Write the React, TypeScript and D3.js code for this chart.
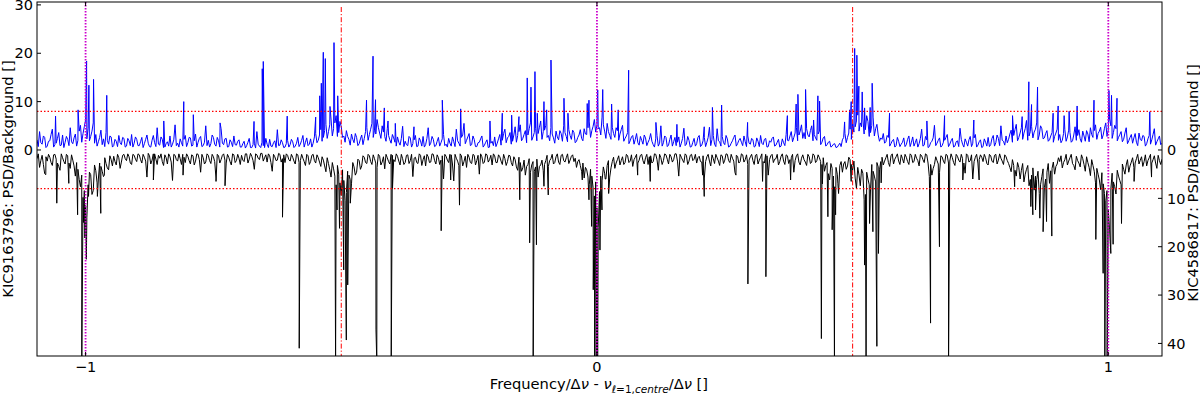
import * as d3 from "d3";

// plot box: 37..1162 px wide, 2..356 px high
const W = 1200;
const H = 394;
const margin = { top: 2, right: 38, bottom: 38, left: 37 };
const innerW = W - margin.left - margin.right;
const innerH = H - margin.top - margin.bottom;

// frequency grid of the noisy part of both spectra (main points + half-step points)
const freqStart = -1.095;
const freqStep = 0.005;
const freqDomain = [-1.095, 1.105];

// KIC9163796 (blue, upward), one row = 0.1 in frequency
const blueNoise = [
  2.1, 3.8, 1.2, 2.6, 0.8, 1.9, 4.3, 1.1, 2.4, 0.9, 3.1, 1.6, 2.2, 4.6, 1.3, 3.3, 2.0, 5.1, 3.4, 6.2,
  4.5, 2.8, 5.6, 3.2, 1.7, 4.1, 2.3, 3.6, 1.2, 2.7, 0.9, 1.8, 3.0, 1.1, 2.4, 0.8, 1.9, 3.2, 1.4, 2.2,
  0.9, 2.6, 1.3, 3.1, 0.7, 2.0, 1.5, 4.6, 1.0, 2.2, 0.6, 1.7, 2.9, 1.2, 5.2, 1.4, 2.3, 0.8, 3.0, 1.5,
  2.5, 1.0, 3.3, 1.6, 2.8, 0.9, 5.0, 2.0, 1.3, 2.6, 0.8, 1.9, 4.4, 1.1, 2.4, 0.7, 1.6, 2.9, 1.0, 2.1,
  0.6, 1.8, 0.9, 2.4, 0.5, 1.4, 3.8, 0.8, 1.6, 0.5, 1.2, 2.2, 0.7, 1.9, 4.2, 1.0, 1.5, 0.6, 2.0, 1.1,
  1.7, 0.8, 2.6, 1.2, 3.0, 1.6, 0.9, 2.3, 1.4, 3.4, 2.0, 4.2, 2.6, 5.3, 3.8, 6.4, 4.4, 7.1, 3.6, 4.8,
  2.9, 4.0, 2.2, 3.3, 1.5, 2.6, 1.3, 3.1, 2.4, 4.6, 3.2, 5.5, 4.1, 6.3, 3.5, 5.0, 2.8, 4.4, 2.1, 3.2,
  1.6, 2.7, 1.0, 4.9, 1.8, 0.9, 2.5, 1.3, 3.0, 0.8, 1.9, 2.8, 1.1, 4.6, 1.4, 2.2, 0.9, 2.6, 1.5, 3.2,
  1.2, 2.4, 0.8, 1.7, 4.3, 1.4, 2.6, 5.5, 2.0, 3.4, 1.1, 2.2, 0.7, 1.6, 2.9, 1.0, 2.1, 0.6, 1.8, 2.7,
  1.4, 3.2, 2.0, 4.3, 2.5, 3.6, 1.8, 4.8, 3.0, 5.2, 2.4, 4.0, 3.1, 5.6, 2.7, 4.5, 3.4, 6.0, 3.8, 5.1,
  3.0, 4.6, 2.5, 3.9, 2.1, 3.4, 5.0, 2.8, 4.2, 2.2, 3.6, 1.8, 3.1, 2.4, 4.4, 3.2, 5.8, 4.0, 6.3, 5.2,
  4.6, 6.8, 3.9, 5.5, 3.0, 4.7, 2.6, 4.0, 3.3, 5.1, 2.4, 3.6, 1.9, 3.0, 2.2, 1.5, 2.8, 1.2, 2.5, 1.6,
  3.4, 1.1, 2.3, 0.8, 5.0, 1.5, 2.6, 1.0, 3.1, 1.7, 0.9, 2.7, 1.4, 4.5, 1.2, 2.0, 0.7, 2.4, 1.3, 3.0,
  1.0, 2.6, 1.6, 4.7, 2.2, 1.2, 4.4, 1.7, 2.8, 1.1, 2.3, 0.8, 1.9, 3.1, 1.3, 2.4, 0.9, 1.7, 2.9, 1.2,
  2.1, 0.8, 1.8, 3.0, 1.1, 2.4, 0.7, 1.6, 2.7, 1.0, 2.2, 0.8, 1.5, 3.2, 1.9, 3.8, 2.6, 4.7, 3.1, 5.2,
  3.6, 4.4, 2.7, 5.0, 3.2, 2.0, 3.9, 1.6, 2.8, 1.1, 1.8, 0.8, 1.3, 0.6, 1.4, 2.1, 3.4, 2.6, 4.3, 5.4,
  4.8, 7.2, 5.6, 6.4, 4.2, 5.9, 3.6, 6.8, 4.4, 3.1, 2.5, 3.4, 1.7, 2.6, 1.3, 2.2, 0.9, 1.8, 1.2, 2.5,
  1.1, 2.9, 1.6, 0.8, 2.3, 1.3, 4.3, 1.0, 2.1, 0.7, 1.8, 5.1, 1.4, 2.5, 0.9, 2.0, 3.2, 1.2, 2.4, 0.8,
  1.9, 4.5, 1.2, 2.3, 0.8, 2.8, 1.4, 3.2, 1.0, 2.1, 0.7, 1.6, 2.6, 1.1, 3.0, 1.5, 2.4, 5.0, 1.8, 2.9,
  2.2, 4.1, 3.0, 5.3, 2.6, 4.6, 3.5, 6.1, 2.9, 4.9, 3.7, 5.6, 3.1, 4.4, 2.5, 4.0, 2.1, 3.6, 2.8, 4.3,
  3.2, 2.0, 4.2, 2.7, 3.6, 1.9, 4.8, 3.0, 2.3, 3.9, 1.8, 3.3, 4.6, 2.6, 5.2, 3.4, 4.7, 3.1, 5.6, 4.2,
  5.0, 3.6, 4.4, 2.6, 3.8, 2.2, 4.6, 1.9, 3.2, 2.5, 1.6, 3.5, 1.9, 2.8, 1.3, 3.0, 2.1, 4.4, 1.7, 2.9,
  1.4,
];

// values half a step after each grid point
const blueNoiseMid = [
  0.7, 1.5, 2.9, 0.5, 1.8, 3.2, 0.6, 1.4, 3.6, 1.0, 0.5, 2.8, 0.9, 1.7, 2.5, 0.8, 3.9, 1.6, 4.8, 2.3,
  1.9, 3.9, 1.4, 0.8, 2.6, 1.1, 0.7, 2.0, 2.9, 0.6, 2.2, 0.7, 1.5, 2.6, 0.6, 2.4, 0.9, 0.6, 2.7, 0.9,
  1.7, 0.5, 2.2, 1.4, 0.6, 3.0, 0.7, 1.2, 2.7, 0.5, 1.3, 0.8, 0.6, 2.1, 0.9, 0.6, 1.5, 2.2, 0.7, 2.6,
  0.8, 1.9, 0.6, 2.4, 0.7, 1.6, 0.9, 0.6, 3.1, 1.2, 2.6, 0.6, 1.4, 2.3, 0.6, 2.1, 0.7, 1.1, 1.8, 0.6,
  1.3, 0.4, 1.6, 0.5, 1.1, 0.4, 1.2, 0.5, 0.9, 2.4, 0.5, 0.8, 1.5, 0.5, 0.9, 2.1, 0.5, 1.3, 0.6, 2.2,
  0.5, 1.4, 0.7, 2.0, 0.6, 2.5, 1.2, 0.6, 2.7, 1.5, 3.1, 1.8, 4.0, 2.4, 5.2, 2.9, 5.6, 2.8, 5.9, 2.6,
  1.6, 2.8, 1.0, 2.2, 3.4, 0.9, 2.3, 1.1, 3.8, 2.0, 4.3, 2.6, 3.3, 4.7, 2.4, 3.7, 1.8, 3.0, 1.4, 2.5,
  0.8, 1.6, 2.4, 0.7, 1.1, 2.8, 0.6, 2.1, 0.7, 2.5, 0.8, 0.6, 2.4, 0.9, 2.8, 0.7, 1.8, 0.8, 2.3, 0.9,
  0.6, 1.4, 2.7, 0.7, 1.9, 0.8, 3.1, 1.3, 2.7, 0.9, 2.9, 0.7, 1.5, 2.3, 0.6, 1.6, 0.5, 1.4, 0.9, 0.7,
  2.3, 1.0, 3.4, 1.5, 2.8, 1.2, 3.1, 1.6, 3.8, 1.9, 3.2, 1.5, 4.4, 2.0, 3.6, 1.9, 4.7, 2.2, 4.1, 2.6,
  1.9, 3.3, 1.4, 2.7, 4.0, 1.8, 3.6, 1.7, 3.0, 4.1, 1.5, 2.6, 4.2, 1.9, 3.3, 4.6, 2.6, 4.9, 3.7, 4.4,
  3.1, 5.2, 2.4, 3.8, 2.2, 3.4, 4.6, 2.0, 4.2, 1.8, 2.9, 1.3, 2.7, 1.2, 3.4, 1.0, 2.0, 3.1, 0.9, 2.2,
  1.8, 0.6, 3.0, 1.4, 0.8, 2.9, 0.7, 2.2, 0.8, 2.6, 1.6, 0.6, 2.4, 0.9, 2.8, 0.6, 1.6, 0.8, 2.6, 0.7,
  1.9, 0.7, 2.6, 0.9, 3.0, 0.7, 1.9, 0.8, 1.5, 3.0, 0.6, 1.4, 2.6, 0.8, 2.0, 1.6, 2.9, 0.7, 1.4, 2.4,
  0.6, 2.5, 0.7, 1.4, 2.2, 0.6, 1.9, 2.4, 0.8, 1.6, 0.6, 2.3, 0.9, 2.0, 2.9, 1.7, 3.5, 1.9, 3.9, 2.4,
  2.3, 3.1, 4.0, 1.9, 2.5, 3.3, 1.1, 2.5, 0.8, 1.6, 0.6, 1.2, 0.5, 1.0, 0.7, 2.6, 1.5, 3.5, 2.2, 3.7,
  6.0, 3.9, 4.8, 3.3, 7.1, 2.8, 5.1, 2.9, 5.3, 1.8, 2.2, 1.4, 3.0, 0.8, 1.9, 0.6, 2.6, 0.7, 1.6, 0.7,
  2.2, 0.7, 2.7, 1.5, 0.6, 2.4, 0.8, 2.8, 0.5, 1.5, 2.5, 0.9, 2.0, 0.6, 1.6, 2.6, 0.7, 1.9, 0.6, 1.7,
  0.7, 2.2, 0.6, 1.6, 2.1, 0.7, 2.5, 0.6, 1.7, 0.5, 2.3, 0.8, 0.7, 2.4, 0.8, 3.1, 0.9, 2.0, 1.0, 1.5,
  3.3, 1.6, 4.2, 1.9, 3.5, 2.2, 4.4, 2.0, 3.8, 2.5, 4.3, 2.1, 5.0, 2.3, 3.4, 1.8, 2.9, 1.6, 3.5, 2.0,
  1.5, 3.4, 1.8, 4.1, 1.6, 3.1, 2.0, 4.2, 1.6, 2.9, 4.0, 1.7, 3.2, 4.0, 2.2, 3.9, 2.3, 4.5, 2.8, 6.4,
  2.4, 5.1, 1.9, 3.2, 1.7, 3.5, 1.3, 2.6, 1.4, 3.4, 0.9, 2.2, 3.0, 0.8, 2.3, 1.2, 3.2, 1.0, 2.3, 1.1,
];

// sharp modes of KIC9163796: [frequency, PSD/background]
const bluePeaks = [
  [-1.0587, 7.0], [-1.0147, 8.3], [-0.998, 18.4], [-0.9935, 13.4], [-0.9844, 14.6], [-0.9586, 11.3],
  [-0.8471, 6.0], [-0.808, 10.0], [-0.7893, 7.3], [-0.737, 5.6], [-0.6706, 5.9], [-0.6545, 16.8],
  [-0.6525, 18.3], [-0.6057, 7.0], [-0.55, 6.8], [-0.5421, 11.2], [-0.539, 13.8], [-0.5351, 20.2],
  [-0.5312, 18.9], [-0.522, 9.0], [-0.5142, 22.2], [-0.5069, 11.2], [-0.4506, 10.3], [-0.4379, 19.4],
  [-0.433, 10.4], [-0.4158, 8.7], [-0.4086, 6.0], [-0.3943, 5.5], [-0.3578, 4.8], [-0.3024, 10.3],
  [-0.2665, 8.5], [-0.2092, 6.0], [-0.1851, 7.6], [-0.1668, 7.2], [-0.1525, 6.9], [-0.1363, 14.9],
  [-0.129, 13.0], [-0.1212, 16.2], [-0.1167, 7.6], [-0.1036, 10.0], [-0.0983, 8.3], [-0.0899, 18.6],
  [-0.0645, 10.7], [-0.0567, 7.6], [-0.019, 9.6], [-0.0156, 10.3], [0.0015, 12.4], [0.0113, 12.5],
  [0.0287, 9.5], [0.0416, 8.3], [0.062, 16.5], [0.1153, 5.7], [0.1564, 5.3], [0.2098, 4.8],
  [0.2258, 8.8], [0.2438, 9.3], [0.2946, 5.7], [0.3724, 7.1], [0.3896, 9.5], [0.393, 11.5],
  [0.408, 12.5], [0.4237, 6.2], [0.4321, 11.2], [0.4354, 10.1], [0.4843, 5.8], [0.494, 8.3],
  [0.4972, 10.0], [0.504, 21.0], [0.5083, 19.6], [0.5122, 13.2], [0.5187, 12.0], [0.5234, 8.7],
  [0.5343, 8.8], [0.5382, 13.8], [0.5722, 7.6], [0.6452, 6.0], [0.6798, 7.1], [0.737, 6.2],
  [0.8127, 7.1], [0.8315, 6.9], [0.8446, 14.1], [0.8499, 9.4], [0.8616, 13.0], [0.8921, 7.6],
  [0.9019, 9.1], [0.9136, 7.1], [0.9234, 8.0], [0.939, 9.1], [0.972, 10.3], [1.0012, 12.3],
  [1.0063, 11.3], [1.017, 10.7], [1.0811, 7.9],
];

// KIC4586817 (black, drawn downward)
const blackNoise = [
  1.8, 3.6, 1.1, 4.9, 2.3, 1.5, 3.2, 0.9, 2.7, 4.2, 1.6, 2.9, 1.2, 3.8, 2.1, 5.4, 4.0, 7.6, 9.8, 11.5,
  7.2, 5.1, 8.4, 4.3, 6.0, 3.4, 5.5, 2.8, 4.1, 2.0, 1.3, 3.1, 1.6, 2.5, 0.9, 2.2, 1.4, 3.0, 1.1, 2.4,
  1.0, 2.7, 1.5, 5.6, 1.2, 2.1, 0.8, 3.0, 1.7, 2.4, 1.0, 2.9, 1.4, 6.3, 1.1, 2.3, 1.8, 0.9, 2.6, 1.3,
  2.9, 1.2, 2.3, 0.9, 4.6, 1.6, 2.5, 1.1, 2.8, 1.4, 5.8, 1.2, 2.0, 0.8, 2.7, 1.5, 3.1, 1.0, 2.2, 1.7,
  1.1, 2.4, 0.8, 1.9, 1.3, 4.0, 1.0, 2.0, 0.7, 1.6, 2.5, 1.2, 4.4, 1.4, 2.1, 0.9, 1.8, 2.6, 1.1, 2.3,
  1.5, 2.9, 1.0, 2.2, 1.7, 3.2, 1.2, 2.4, 0.9, 2.7, 1.6, 3.4, 2.1, 4.5, 2.8, 5.6, 3.9, 7.2, 5.0, 9.4,
  6.3, 8.8, 5.2, 7.0, 3.5, 4.6, 2.2, 3.3, 1.5, 2.8, 1.2, 3.0, 1.8, 3.6, 1.3, 2.5, 3.9, 1.6, 2.9, 1.1,
  2.4, 1.3, 3.1, 1.8, 2.6, 1.0, 2.2, 5.5, 1.5, 2.8, 1.1, 2.0, 3.3, 1.4, 2.5, 0.9, 2.9, 1.6, 2.1, 6.0,
  1.3, 2.6, 1.0, 6.4, 1.7, 3.2, 1.2, 2.4, 3.6, 1.5, 2.8, 1.1, 2.2, 5.0, 1.4, 2.5, 1.0, 2.0, 3.1, 1.2,
  2.6, 1.4, 3.0, 1.8, 2.4, 1.2, 3.3, 2.0, 4.2, 2.6, 3.7, 5.2, 3.0, 4.6, 2.4, 3.5, 5.6, 3.1, 4.3, 2.2,
  3.4, 1.8, 2.9, 1.4, 2.5, 1.1, 2.2, 1.6, 2.8, 1.3, 2.4, 3.6, 2.0, 4.4, 5.8, 4.1, 7.2, 5.4, 9.5, 12.0,
  8.6, 6.4, 4.8, 3.2, 5.6, 2.4, 3.8, 2.0, 3.1, 1.4, 2.6, 1.2, 2.3, 3.4, 1.5, 2.7, 1.1, 2.2, 1.6, 3.0,
  1.2, 2.4, 0.9, 4.2, 1.6, 2.2, 1.0, 2.9, 1.4, 2.0, 0.8, 5.4, 1.5, 2.6, 1.1, 2.3, 0.9, 1.9, 2.7, 1.3,
  2.5, 5.8, 1.4, 2.3, 1.0, 2.8, 1.6, 3.2, 1.2, 2.1, 0.9, 2.6, 1.7, 4.7, 1.3, 2.4, 1.0, 2.0, 3.0, 1.4,
  2.2, 1.1, 2.9, 1.5, 2.4, 0.9, 5.2, 1.2, 2.6, 1.8, 3.1, 1.3, 2.3, 1.0, 2.8, 1.6, 4.6, 1.2, 2.5, 1.7,
  2.0, 3.2, 1.4, 2.5, 1.1, 2.2, 1.6, 3.0, 4.4, 2.6, 6.2, 3.8, 7.6, 5.0, 3.2, 4.6, 2.4, 3.3, 2.0, 4.2,
  5.8, 3.6, 7.4, 4.8, 9.2, 6.0, 8.1, 4.4, 6.6, 3.5, 2.4, 3.1, 1.6, 2.6, 1.2, 2.9, 1.4, 2.3, 1.0, 2.7,
  1.5, 3.0, 1.1, 2.4, 1.7, 3.3, 1.2, 2.6, 1.0, 5.5, 5.2, 3.0, 2.2, 4.6, 1.4, 2.8, 1.1, 2.3, 1.6, 3.2,
  1.3, 2.5, 1.8, 4.8, 1.1, 2.2, 6.0, 1.5, 2.7, 1.0, 2.4, 1.6, 3.1, 1.2, 2.6, 0.9, 2.1, 1.7, 3.0, 1.4,
  2.8, 4.5, 3.2, 5.4, 3.6, 4.2, 6.6, 4.0, 7.4, 5.2, 8.3, 6.1, 9.0, 5.5, 7.8, 4.6, 6.9, 3.8, 5.0, 2.9,
  2.4, 3.7, 2.0, 3.1, 1.6, 2.8, 4.1, 2.2, 3.5, 1.8, 4.4, 2.6, 5.3, 3.2, 6.8, 5.0, 8.2, 7.0, 10.5, 12.4,
  8.0, 6.6, 9.1, 5.4, 7.2, 4.0, 3.1, 4.6, 2.5, 3.6, 1.8, 2.9, 1.4, 2.4, 3.3, 1.6, 2.7, 1.2, 3.8, 2.2,
  1.9,
];

const blackNoiseMid = [
  0.8, 2.2, 3.0, 1.4, 0.9, 2.6, 1.0, 1.9, 3.4, 0.8, 2.4, 0.9, 2.7, 1.0, 3.3, 2.6, 6.1, 5.2, 8.4, 14.0,
  4.6, 9.2, 3.1, 6.8, 2.7, 4.4, 1.6, 3.7, 1.2, 3.3, 2.4, 0.9, 3.8, 1.1, 1.8, 0.8, 2.7, 0.9, 1.9, 0.8,
  2.0, 0.9, 2.3, 0.7, 2.9, 0.8, 1.9, 1.1, 0.8, 3.2, 1.6, 0.8, 2.5, 0.9, 2.0, 0.8, 3.0, 1.5, 0.8, 2.2,
  1.0, 3.1, 0.8, 2.0, 0.9, 2.9, 0.8, 2.2, 0.9, 2.4, 0.9, 2.7, 1.1, 2.1, 0.9, 2.4, 0.8, 2.6, 0.9, 3.0,
  2.1, 0.8, 2.7, 0.7, 2.2, 0.8, 1.7, 0.7, 2.3, 1.0, 0.8, 2.6, 0.9, 2.2, 0.7, 2.5, 1.0, 0.8, 2.0, 0.9,
  2.3, 0.8, 2.6, 0.9, 2.4, 0.9, 3.0, 1.1, 2.2, 1.0, 2.5, 1.4, 3.3, 1.6, 4.1, 2.6, 5.4, 3.2, 6.8, 4.1,
  10.5, 4.4, 6.1, 2.6, 5.2, 1.9, 4.0, 1.2, 2.6, 0.9, 2.4, 1.0, 2.7, 0.9, 3.1, 1.4, 0.9, 2.4, 0.9, 2.0,
  0.8, 2.3, 0.9, 3.0, 1.1, 2.8, 0.9, 1.7, 2.6, 0.8, 3.2, 1.2, 0.9, 2.6, 0.8, 2.2, 1.0, 3.0, 1.2, 0.9,
  2.1, 0.9, 2.9, 0.9, 2.3, 0.8, 3.3, 1.3, 0.9, 2.6, 0.9, 3.1, 1.1, 0.8, 2.8, 0.8, 2.5, 1.1, 0.8, 2.6,
  1.0, 2.3, 0.9, 3.2, 1.1, 2.6, 1.4, 3.5, 1.5, 4.4, 2.1, 3.4, 1.8, 3.1, 4.4, 1.9, 3.4, 2.1, 3.0, 1.1,
  2.2, 0.9, 2.6, 0.8, 3.0, 0.9, 2.5, 0.8, 2.1, 1.0, 1.7, 2.4, 3.2, 2.7, 3.6, 5.6, 4.0, 7.8, 6.6, 16.0,
  5.4, 3.5, 6.0, 2.2, 3.7, 1.5, 2.7, 1.2, 2.2, 3.0, 0.9, 2.6, 1.0, 2.0, 0.9, 2.1, 0.9, 2.9, 0.9, 1.4,
  2.7, 0.8, 2.0, 0.9, 3.0, 0.8, 1.9, 0.9, 2.5, 0.8, 2.3, 0.9, 2.1, 0.8, 3.0, 1.1, 2.2, 0.9, 1.6, 2.4,
  1.2, 2.4, 0.9, 3.3, 1.8, 0.9, 2.3, 1.0, 2.8, 0.8, 2.2, 0.9, 2.3, 1.1, 2.7, 0.8, 2.5, 1.0, 2.1, 0.9,
  3.0, 0.9, 2.1, 0.8, 2.7, 1.2, 2.0, 0.9, 1.9, 0.9, 2.4, 0.8, 3.0, 1.2, 2.0, 0.9, 2.2, 0.8, 3.1, 1.0,
  2.5, 0.9, 2.8, 0.8, 2.6, 1.0, 2.4, 1.6, 3.2, 4.9, 2.8, 5.4, 3.6, 9.0, 2.4, 2.9, 4.0, 1.5, 3.0, 2.3,
  8.0, 5.2, 4.0, 10.3, 4.6, 7.2, 3.0, 5.4, 2.6, 4.1, 1.5, 2.3, 0.9, 3.4, 0.8, 1.9, 0.8, 3.0, 1.8, 0.9,
  2.4, 0.8, 2.6, 0.9, 2.2, 0.9, 2.0, 0.8, 2.7, 3.0, 3.8, 1.4, 2.9, 1.2, 2.3, 0.9, 2.7, 0.8, 2.6, 0.9,
  2.1, 0.9, 2.7, 0.8, 2.5, 1.0, 2.4, 0.9, 2.0, 1.5, 0.9, 2.8, 0.9, 2.3, 1.1, 2.9, 0.8, 2.3, 1.0, 2.2,
  3.6, 2.0, 4.2, 2.6, 6.0, 2.8, 5.0, 3.2, 6.1, 3.7, 5.4, 4.4, 7.2, 3.9, 6.0, 2.8, 4.3, 2.5, 3.4, 1.6,
  1.2, 2.6, 0.9, 2.3, 0.9, 3.2, 1.3, 2.7, 1.0, 3.0, 1.4, 3.6, 2.0, 4.4, 3.8, 6.2, 4.7, 9.0, 8.4, 16.5,
  4.8, 7.6, 4.2, 6.3, 2.9, 5.0, 2.0, 3.3, 1.6, 2.7, 0.9, 2.1, 3.4, 1.0, 2.2, 0.9, 2.0, 2.7, 1.1, 3.0,
];

// sharp modes of KIC4586817: [frequency, PSD/background]
const blackPeaks = [
  [-1.0778, 5.1], [-1.0563, 11.0], [-1.0328, 6.9], [-1.0156, 13.4], [-1.0074, 44], [-1.0043, 15.0],
  [-1.0015, 18.2], [-0.9985, 22.6], [-0.9942, 9.6], [-0.9769, 9.6], [-0.9703, 13.1], [-0.9633, 5.2],
  [-0.8674, 6.2], [-0.8094, 5.2], [-0.7449, 6.5], [-0.7273, 7.4], [-0.6149, 13.9], [-0.5822, 41.0],
  [-0.5111, 44], [-0.5083, 12.4], [-0.5034, 16.2], [-0.4952, 24.8], [-0.4901, 39.3], [-0.4874, 27.9],
  [-0.4823, 11.0], [-0.4321, 37.2], [-0.4305, 44], [-0.4023, 44], [-0.3998, 7.9], [-0.3046, 16.7],
  [-0.286, 6.2], [-0.2688, 11.4], [-0.1509, 10.3], [-0.1316, 19.2], [-0.1247, 44], [-0.1183, 19.6],
  [-0.1036, 7.5], [-0.0952, 9.3], [-0.0287, 6.2], [-0.0156, 10.3], [-0.0104, 15.8], [-0.0072, 28.9],
  [-0.0045, 44], [-0.0014, 44], [0.0014, 44], [0.0059, 20.7], [0.0098, 12.4], [0.0162, 6.0],
  [0.0229, 9.0], [0.0796, 5.2], [0.1042, 6.5], [0.2066, 5.2], [0.2098, 9.6], [0.2718, 5.2],
  [0.2952, 27.7], [0.3239, 6.5], [0.3304, 26.2], [0.3787, 6.2], [0.4389, 39.0], [0.4409, 7.0],
  [0.4516, 13.8], [0.46, 16.5], [0.4645, 44], [0.4667, 13.4], [0.4712, 7.0], [0.4972, 6.5],
  [0.5234, 23.8], [0.5263, 44], [0.5331, 15.2], [0.5396, 16.9], [0.5474, 40.6], [0.5505, 21.4],
  [0.5558, 6.8], [0.6504, 7.9], [0.6524, 35.8], [0.6698, 20.0], [0.6876, 44], [0.7155, 6.2],
  [0.7474, 6.2], [0.8168, 7.6], [0.8485, 11.7], [0.8524, 13.4], [0.8577, 12.4], [0.8661, 14.1],
  [0.8725, 16.9], [0.8792, 14.8], [0.8895, 17.8], [0.9756, 18.5], [0.9899, 25.5], [0.9932, 44],
  [0.9977, 44], [1.0049, 21.4], [1.0094, 19.5], [1.0258, 15.2], [1.0504, 6.5], [1.0845, 5.6],
];

const leftTicks = [0, 10, 20, 30];
const rightTicks = [0, 10, 20, 30, 40];
const xTicks = [-1, 0, 1];
const l1Lines = [-1, 0, 1]; // magenta dotted
const l0Lines = [-0.5, 0.5]; // red dash-dot
const threshold = 8;

const font = "DejaVu Sans, sans-serif";

function buildSeries(noise: number[], mid: number[], peaks: number[][]) {
  const main = noise.map((v, i) => [freqStart + i * freqStep, v]);
  const half = mid.map((v, i) => [freqStart + (i + 0.5) * freqStep, v]);
  return main.concat(half, peaks).sort((a, b) => a[0] - b[0]);
}

export default function App() {
  const x = d3.scaleLinear().domain(freqDomain).range([0, innerW]);
  // one shared axis: top star upward, bottom star downward
  const y = d3.scaleLinear().domain([-42.6, 30.6]).range([innerH, 0]);

  const blue = buildSeries(blueNoise, blueNoiseMid, bluePeaks);
  const black = buildSeries(blackNoise, blackNoiseMid, blackPeaks);

  const blueLine = d3
    .line<number[]>()
    .x((d) => x(d[0]))
    .y((d) => y(d[1]));
  const blackLine = d3
    .line<number[]>()
    .x((d) => x(d[0]))
    .y((d) => y(-d[1]));

  return (
    <div style={{ position: "absolute", left: 0, top: 0 }}>
      <svg width={W} height={H} style={{ display: "block", background: "#fff" }}>
        <defs>
          <clipPath id="plot">
            <rect width={innerW} height={innerH} />
          </clipPath>
        </defs>
        <g transform={`translate(${margin.left},${margin.top})`} fontFamily={font}>
          <g clipPath="url(#plot)">
            <path d={blackLine(black) ?? ""} fill="none" stroke="#000" strokeWidth={1} />
            <path d={blueLine(blue) ?? ""} fill="none" stroke="#0000ff" strokeWidth={1} />
            {/* threshold lines */}
            {[threshold, -threshold].map((t) => (
              <line
                key={t}
                x1={0}
                x2={innerW}
                y1={y(t)}
                y2={y(t)}
                stroke="#ff0000"
                strokeWidth={1.2}
                strokeDasharray="1.5,2"
              />
            ))}
            {l0Lines.map((f) => (
              <line
                key={f}
                x1={x(f)}
                x2={x(f)}
                y1={5}
                y2={innerH}
                stroke="#ff0000"
                strokeWidth={1}
                strokeDasharray="5,2,1.2,2"
              />
            ))}
            {l1Lines.map((f) => (
              <line
                key={f}
                x1={x(f)}
                x2={x(f)}
                y1={0}
                y2={innerH}
                stroke="#cc00cc"
                strokeWidth={1.8}
                strokeDasharray="1.6,1.4"
              />
            ))}
          </g>

          <rect width={innerW} height={innerH} fill="none" stroke="#000" strokeWidth={1} />

          {/* left axis */}
          {leftTicks.map((t) => (
            <g key={t} transform={`translate(0,${y(t)})`}>
              <line x2={4} stroke="#000" />
              <text x={-4} dy="0.36em" textAnchor="end" fontSize={14.5}>
                {t}
              </text>
            </g>
          ))}
          {/* right axis, values counted downward */}
          {rightTicks.map((t) => (
            <g key={t} transform={`translate(${innerW},${y(-t)})`}>
              <line x2={-4} stroke="#000" />
              <text x={5} dy="0.36em" textAnchor="start" fontSize={14.5}>
                {t}
              </text>
            </g>
          ))}
          {/* x axis */}
          {xTicks.map((t) => (
            <g key={t} transform={`translate(${x(t)},0)`}>
              <line y1={innerH} y2={innerH - 4} stroke="#000" />
              <line y1={0} y2={4} stroke="#000" />
              <text y={innerH + 16} textAnchor="middle" fontSize={14.5}>
                {t < 0 ? `\u2212${Math.abs(t)}` : t}
              </text>
            </g>
          ))}

          <text
            transform={`translate(${13 - margin.left},${innerH / 2}) rotate(-90)`}
            textAnchor="middle"
            fontSize={14.7}
          >
            KIC9163796: PSD/Background []
          </text>
          <text
            transform={`translate(${W - 2 - margin.left},${innerH / 2 + 4}) rotate(-90)`}
            textAnchor="middle"
            fontSize={14.7}
          >
            KIC4586817: PSD/Background []
          </text>

          <text x={x(0) + 2} y={innerH + 33} textAnchor="middle" fontSize={14.7}>
            Frequency/Δ<tspan fontStyle="italic">ν</tspan> - <tspan fontStyle="italic">ν</tspan>
            <tspan fontSize={10.5} dy={3.5}>
              <tspan fontStyle="italic">ℓ</tspan>=1,<tspan fontStyle="italic">centre</tspan>
            </tspan>
            <tspan dy={-3.5}>/Δ</tspan>
            <tspan fontStyle="italic">ν</tspan> []
          </text>
        </g>
      </svg>
    </div>
  );
}
